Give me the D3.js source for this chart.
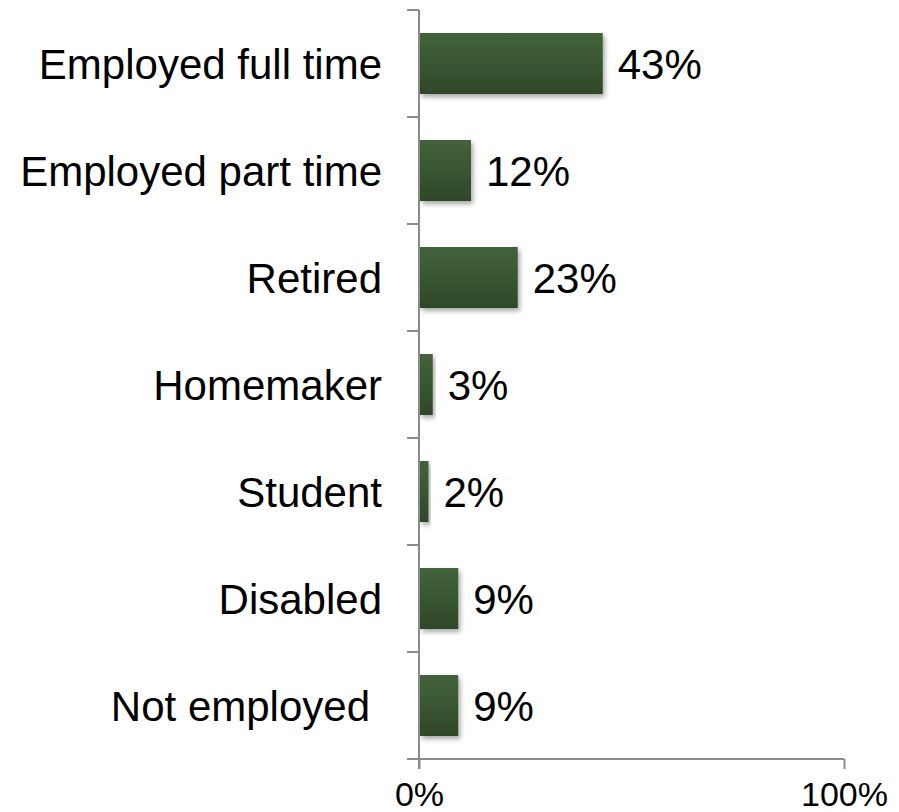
<!DOCTYPE html>
<html>
<head>
<meta charset="utf-8">
<script src="https://cdn.jsdelivr.net/npm/d3@7"></script>
<style>
  body { margin: 0; background: #fff; }
  text { font-family: "Liberation Sans", Arial, sans-serif; fill: #000; }
</style>
</head>
<body>
<svg width="899" height="812"></svg>
<script>
// data
var categories = ["Employed full time", "Employed part time", "Retired", "Homemaker", "Student", "Disabled", "Not employed"];
var values = [43, 12, 23, 3, 2, 9, 9];
var tickLabels = ["0%", "100%"];

var svg = d3.select("svg"),
    margin = {top: 10, right: 55, bottom: 53, left: 419},
    width = +svg.attr("width") - margin.left - margin.right,
    height = +svg.attr("height") - margin.top - margin.bottom;

var defs = svg.append("defs");
var grad = defs.append("linearGradient")
    .attr("id", "barGrad")
    .attr("x1", 0).attr("y1", 0).attr("x2", 0).attr("y2", 1);
grad.append("stop").attr("offset", "0%").attr("stop-color", "#43633b");
grad.append("stop").attr("offset", "100%").attr("stop-color", "#2e4829");

var shadow = defs.append("filter").attr("id", "shadow")
    .attr("x", "-10%").attr("y", "-10%").attr("width", "130%").attr("height", "140%");
shadow.append("feDropShadow")
    .attr("dx", 2).attr("dy", 3).attr("stdDeviation", 2.5)
    .attr("flood-color", "#000").attr("flood-opacity", 0.35);

var x = d3.scaleLinear().domain([0, 100]).range([0, width]);
var y = d3.scaleBand().domain(categories).range([0, height]).paddingInner(0.43).paddingOuter(0.215);

var g = svg.append("g").attr("transform", "translate(" + margin.left + "," + margin.top + ")");

// bars
g.selectAll("rect.bar")
    .data(values)
    .enter().append("rect")
    .attr("class", "bar")
    .attr("x", 1)
    .attr("y", function(d, i) { return y(categories[i]); })
    .attr("width", function(d) { return x(d); })
    .attr("height", y.bandwidth())
    .attr("fill", "url(#barGrad)")
    .attr("filter", "url(#shadow)");

// value labels
g.selectAll("text.val")
    .data(values)
    .enter().append("text")
    .attr("class", "val")
    .attr("x", function(d) { return x(d) + 16; })
    .attr("y", function(d, i) { return y(categories[i]) + y.bandwidth() / 2; })
    .attr("dy", "0.36em")
    .style("font-size", "42px")
    .text(function(d) { return d + "%"; });

// category labels
g.selectAll("text.cat")
    .data(categories)
    .enter().append("text")
    .attr("class", "cat")
    .attr("x", function(d) { return d == "Not employed" ? -49 : -37; })
    .attr("y", function(d) { return y(d) + y.bandwidth() / 2; })
    .attr("dy", "0.36em")
    .attr("text-anchor", "end")
    .style("font-size", "42px")
    .text(function(d) { return d; });

var axisColor = "#8c8c8c";

// y axis line and ticks at category boundaries
g.append("line")
    .attr("x1", 0).attr("x2", 0).attr("y1", 0).attr("y2", height + 10)
    .attr("stroke", axisColor).attr("stroke-width", 2);

var step = y.step();
var bounds = d3.range(categories.length + 1).map(function(i) { return y.range()[0] + (y(categories[0]) - y.paddingOuter() * step) + i * step; });
g.selectAll("line.ytick")
    .data(bounds)
    .enter().append("line")
    .attr("class", "ytick")
    .attr("x1", -12).attr("x2", 0)
    .attr("y1", function(d) { return d; }).attr("y2", function(d) { return d; })
    .attr("stroke", axisColor).attr("stroke-width", 2);

// x axis
var xAxis = g.append("g")
    .attr("transform", "translate(0," + height + ")")
    .call(d3.axisBottom(x).tickValues([0, 100]).tickSize(10).tickFormat(function(d, i) { return tickLabels[i]; }));
xAxis.select(".domain").attr("stroke", axisColor).attr("stroke-width", 2).attr("d", "M0,0H" + width);
xAxis.selectAll(".tick line").attr("stroke", axisColor).attr("stroke-width", 2);
xAxis.selectAll(".tick text")
    .attr("y", 47)
    .attr("dy", "0")
    .style("font-size", "34px")
    .style("font-family", "'Liberation Sans', Arial, sans-serif")
    .attr("fill", "#000");
</script>
</body>
</html>
